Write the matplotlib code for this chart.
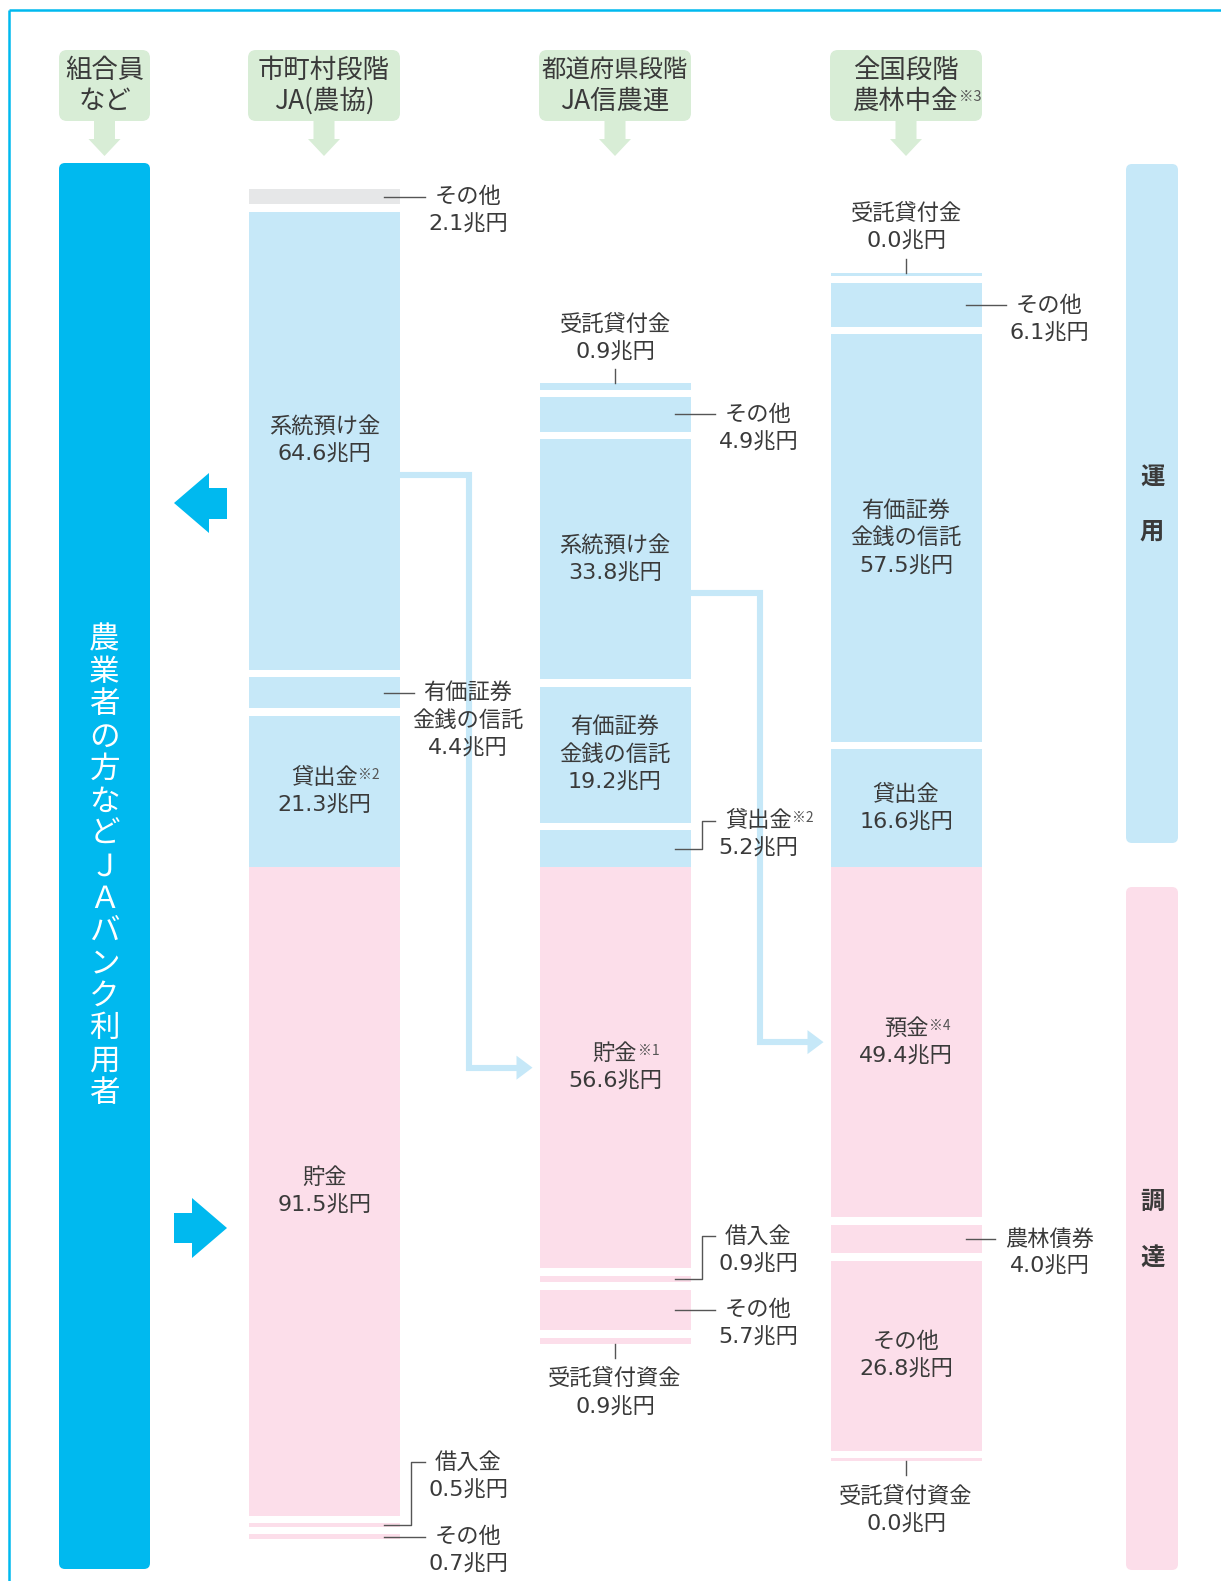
import matplotlib
matplotlib.use('Agg')
import matplotlib.pyplot as plt
from matplotlib.patches import FancyBboxPatch, Polygon

plt.rcParams['font.family'] = ['Noto Sans CJK JP', 'DejaVu Sans']

# ---------------- data ----------------
unit = '兆円'

ja_asset_names = ['その他', '系統預け金', '有価証券\n金銭の信託', '貸出金']
ja_asset_notes = ['', '', '', '※2']
ja_asset_values = [2.1, 64.6, 4.4, 21.3]
ja_liab_names = ['貯金', '借入金', 'その他']
ja_liab_notes = ['', '', '']
ja_liab_values = [91.5, 0.5, 0.7]

shinren_asset_names = ['受託貸付金', 'その他', '系統預け金', '有価証券\n金銭の信託', '貸出金']
shinren_asset_notes = ['', '', '', '', '※2']
shinren_asset_values = [0.9, 4.9, 33.8, 19.2, 5.2]
shinren_liab_names = ['貯金', '借入金', 'その他', '受託貸付資金']
shinren_liab_notes = ['※1', '', '', '']
shinren_liab_values = [56.6, 0.9, 5.7, 0.9]

norin_asset_names = ['受託貸付金', 'その他', '有価証券\n金銭の信託', '貸出金']
norin_asset_notes = ['', '', '', '']
norin_asset_values = [0.0, 6.1, 57.5, 16.6]
norin_liab_names = ['預金', '農林債券', 'その他', '受託貸付資金']
norin_liab_notes = ['※4', '', '', '']
norin_liab_values = [49.4, 4.0, 26.8, 0.0]

header_lines = [['組合員', 'など'], ['市町村段階', 'JA(農協)'],
                ['都道府県段階', 'JA信農連'], ['全国段階', '農林中金']]
header_notes = ['', '', '', '※3']
member_label = '農業者の方などＪＡバンク利用者'
side_labels = ['運用', '調達']

# ---------------- style / layout ----------------
W, H = 1221, 1581
BASE = 867          # pixel row of the assets / liabilities boundary
S = 7.09            # pixels per 兆円
GAP = 7.5           # pixel gap between segments
MINH = 3.0          # minimum visible thickness (px)
BW = 151            # bar width px
LS = 28             # text line spacing px
CH = 22.2           # approx CJK glyph width px

BLUE = '#00b9ef'
LBLUE = '#c6e8f8'
PINK = '#fcdeea'
GRAY = '#e6e7e8'
GREEN = '#d8edd6'
TXT = '#3a3a3a'
LINE = '#555555'
FS = 16
NUMFONT = ['DejaVu Sans', 'Noto Sans CJK JP']

columns = [
    dict(x=324.5,
         a_names=ja_asset_names, a_notes=ja_asset_notes, a_vals=ja_asset_values,
         a_place=['side', 'in', 'side', 'in'],
         a_colors=[GRAY, LBLUE, LBLUE, LBLUE],
         l_names=ja_liab_names, l_notes=ja_liab_notes, l_vals=ja_liab_values,
         l_place=['in', ('elbow', 63), 'side']),
    dict(x=615.0,
         a_names=shinren_asset_names, a_notes=shinren_asset_notes, a_vals=shinren_asset_values,
         a_place=['top', 'side', 'in', 'in', ('elbow', 28)],
         a_colors=[LBLUE] * 5,
         l_names=shinren_liab_names, l_notes=shinren_liab_notes, l_vals=shinren_liab_values,
         l_place=['in', ('elbow', 43), 'side', 'bottom']),
    dict(x=906.0,
         a_names=norin_asset_names, a_notes=norin_asset_notes, a_vals=norin_asset_values,
         a_place=['top', 'side', 'in', 'in'],
         a_colors=[LBLUE] * 4,
         l_names=norin_liab_names, l_notes=norin_liab_notes, l_vals=norin_liab_values,
         l_place=['in', 'side', 'in', 'bottom']),
]

fig = plt.figure(figsize=(W / 100, H / 100), dpi=100)
axp = fig.add_axes([0, 0, 1, 1])          # pixel axes for decorations
axp.set_xlim(0, W); axp.set_ylim(H, 0); axp.axis('off')
ax = fig.add_axes([0, 0, 1, 1])           # data axes (兆円)
ax.set_xlim(0, W); ax.set_ylim((BASE - H) / S, BASE / S); ax.axis('off')
ax.patch.set_alpha(0); axp.patch.set_alpha(0)


def Y(px):
    """pixel row -> data y"""
    return (BASE - px) / S


def P(y):
    """data y -> pixel row"""
    return BASE - y * S


def stack_up(values):
    out = [None] * len(values)
    cur = 0.0
    for i in reversed(range(len(values))):
        h = max(values[i], MINH / S)
        out[i] = (cur, h)
        cur += h + GAP / S
    return out


def stack_down(values):
    out = []
    cur = 0.0
    for v in values:
        h = max(v, MINH / S)
        out.append((-cur - h, h))
        cur += h + GAP / S
    return out


def name_text(x, py, name, note, fs=FS, family=None):
    kw = {} if family is None else {'family': family}
    t = ax.text(x, Y(py), name, ha='center', va='center', fontsize=fs,
                color=TXT, zorder=6, **kw)
    if note:
        ax.annotate(note, xy=(1, 0.9), xycoords=t, xytext=(0.2, 0),
                    textcoords='offset points', ha='left', va='top',
                    fontsize=10, color='#555555', zorder=6)
    return t


def value_text(x, py, val):
    return name_text(x, py, f'{val:.1f}{unit}', '', family=NUMFONT)


def label(col, seg, name, note, val, place):
    xc = col['x']
    right = xc + BW / 2
    b, h = seg
    top_px, bot_px = P(b + h), P(b)
    c_px = (top_px + bot_px) / 2
    lines = name.split('\n')
    kind = place if isinstance(place, str) else place[0]
    if kind == 'in':
        n = len(lines) + 1
        for i, s in enumerate(lines):
            py = c_px + (i - (n - 1) / 2) * LS
            name_text(xc, py, s, note if i == len(lines) - 1 else '')
        value_text(xc, c_px + ((n - 1) / 2) * LS, val)
    elif kind in ('side', 'elbow'):
        xt = right + 68
        first = c_px if kind == 'side' else c_px - place[1]
        for i, s in enumerate(lines):
            name_text(xt, first + i * LS, s, note if i == len(lines) - 1 else '')
        value_text(xt, first + len(lines) * LS, val)
        tleft = xt - len(lines[0]) * CH / 2 - 10
        if kind == 'side':
            ax.plot([right - 16, tleft], [Y(c_px)] * 2, color=LINE, lw=1.0, zorder=5)
        else:
            xv = right + 11
            ax.plot([right - 16, xv, xv, tleft],
                    [Y(c_px), Y(c_px), Y(first), Y(first)],
                    color=LINE, lw=1.0, zorder=5)
    elif kind == 'top':
        ax.plot([xc, xc], [Y(top_px), Y(top_px - 14)], color=LINE, lw=1.0, zorder=5)
        name_text(xc, top_px - 59, lines[0], note)
        value_text(xc, top_px - 31, val)
    elif kind == 'bottom':
        ax.plot([xc, xc], [Y(bot_px), Y(bot_px + 14)], color=LINE, lw=1.0, zorder=5)
        name_text(xc, bot_px + 35, lines[0], note)
        value_text(xc, bot_px + 63, val)


# ---------------- bars ----------------
for col in columns:
    col['a_segs'] = stack_up(col['a_vals'])
    col['l_segs'] = stack_down(col['l_vals'])
    for (b, h), c in zip(col['a_segs'], col['a_colors']):
        ax.bar(col['x'], h, bottom=b, width=BW, color=c, linewidth=0, zorder=2)
    for (b, h) in col['l_segs']:
        ax.bar(col['x'], h, bottom=b, width=BW, color=PINK, linewidth=0, zorder=2)
    for seg, n, nt, v, pl in zip(col['a_segs'], col['a_names'], col['a_notes'],
                                 col['a_vals'], col['a_place']):
        label(col, seg, n, nt, v, pl)
    for seg, n, nt, v, pl in zip(col['l_segs'], col['l_names'], col['l_notes'],
                                 col['l_vals'], col['l_place']):
        label(col, seg, n, nt, v, pl)


# ---------------- flow arrows (系統預け金 -> upper level deposits) ----------------
def flow(src_col, src_idx, dst_col, dst_idx):
    b, h = src_col['a_segs'][src_idx]
    ys_px = P(b + h / 2) + 34
    b2, h2 = dst_col['l_segs'][dst_idx]
    ye_px = P(b2 + h2 / 2)
    x0 = src_col['x'] + BW / 2 - 2
    xv = src_col['x'] + BW / 2 + 69
    tip = dst_col['x'] - BW / 2 - 7
    back = tip - 16
    ax.plot([x0, xv, xv, back + 1], [Y(ys_px), Y(ys_px), Y(ye_px), Y(ye_px)],
            color=LBLUE, lw=4.4, solid_joinstyle='miter', solid_capstyle='butt', zorder=3)
    ax.add_patch(Polygon([(back, Y(ye_px - 12)), (tip, Y(ye_px)), (back, Y(ye_px + 12))],
                         closed=True, facecolor=LBLUE, edgecolor='none', zorder=3))


flow(columns[0], 1, columns[1], 0)
flow(columns[1], 2, columns[2], 0)

# ---------------- decorations ----------------
axp.plot([9, W], [10, 10], color=BLUE, lw=1.8, solid_capstyle='butt')
axp.plot([9, 9], [10, H], color=BLUE, lw=1.8, solid_capstyle='butt')

box_x = [(59, 150), (248, 400), (539, 691), (830, 982)]
head_fs = [19, 19, 17.6, 19]
for (x0, x1), lines, note, hfs in zip(box_x, header_lines, header_notes, head_fs):
    axp.add_patch(FancyBboxPatch((x0, 50), x1 - x0, 71,
                                 boxstyle='round,pad=0,rounding_size=8',
                                 facecolor=GREEN, edgecolor='none'))
    xc = (x0 + x1) / 2
    axp.add_patch(Polygon([(xc - 10.5, 120), (xc + 10.5, 120), (xc + 10.5, 139),
                           (xc + 16, 139), (xc, 156), (xc - 16, 139), (xc - 10.5, 139)],
                          closed=True, facecolor=GREEN, edgecolor='none'))
    axp.text(xc, 70, lines[0], ha='center', va='center', fontsize=hfs, color=TXT)
    t2 = axp.text(xc, 101, lines[1], ha='center', va='center', fontsize=19, color=TXT)
    if note:
        axp.annotate(note, xy=(1, 0.9), xycoords=t2, xytext=(0.2, 0),
                     textcoords='offset points', ha='left', va='top',
                     fontsize=10.5, color='#555555')

# member bar
axp.add_patch(FancyBboxPatch((59, 163), 91, 1406, boxstyle='round,pad=0,rounding_size=6',
                             facecolor=BLUE, edgecolor='none'))
for i, ch in enumerate(member_label):
    axp.text(104.5, 640 + i * 32.4, ch, ha='center', va='center', fontsize=22,
             color='white')

# blue arrows
axp.add_patch(Polygon([(174, 503), (209, 473), (209, 488), (227, 488), (227, 519),
                       (209, 519), (209, 533)], closed=True, facecolor=BLUE, edgecolor='none'))
axp.add_patch(Polygon([(227, 1228), (192, 1198), (192, 1213), (174, 1213), (174, 1243),
                       (192, 1243), (192, 1258)], closed=True, facecolor=BLUE, edgecolor='none'))

# right side labels
axp.add_patch(FancyBboxPatch((1126, 164), 52, 679, boxstyle='round,pad=0,rounding_size=6',
                             facecolor=LBLUE, edgecolor='none'))
axp.add_patch(FancyBboxPatch((1126, 887), 52, 683, boxstyle='round,pad=0,rounding_size=6',
                             facecolor=PINK, edgecolor='none'))
for (c1, c2), (y1, y2) in zip(side_labels, [(477, 532), (1202, 1258)]):
    axp.text(1152, y1, c1, ha='center', va='center', fontsize=17.5, fontweight='bold', color=TXT)
    axp.text(1152, y2, c2, ha='center', va='center', fontsize=17.5, fontweight='bold', color=TXT)

fig.savefig('out.png', dpi=100)
